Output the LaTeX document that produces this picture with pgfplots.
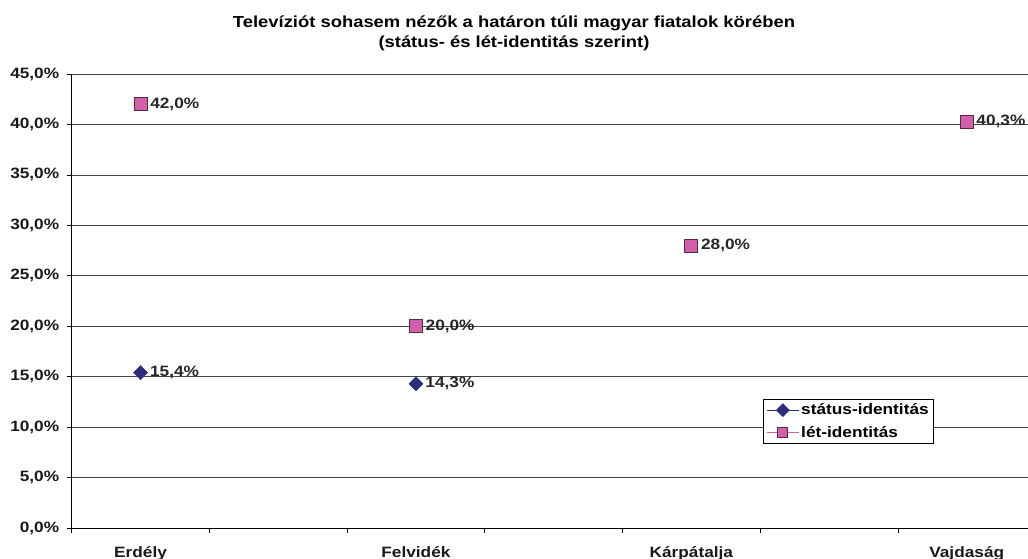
\documentclass[border=0pt]{standalone}
\usepackage{pgfplots}
\pgfplotsset{compat=1.18}
\usepackage{fontspec}
\setmainfont{Liberation Sans}[FakeStretch=1.15]
\definecolor{pinkf}{RGB}{208,96,168}
\definecolor{pinkd}{RGB}{90,40,70}
\definecolor{navy}{RGB}{44,44,122}
\definecolor{gridc}{RGB}{70,70,70}
\begin{document}
\begin{tikzpicture}[x=1pt,y=1pt]
\useasboundingbox (0,0) rectangle (1028,559);
\node[font=\bfseries\fontsize{16}{20}\selectfont, align=center, inner sep=0pt] at (514,526) {Televíziót sohasem nézők a határon túli magyar fiatalok körében\\(státus- és lét-identitás szerint)};
\begin{axis}[
  at={(71.7pt,31pt)}, anchor=south west,
  scale only axis, width=956.3pt, height=454pt,
  xmin=-0.5, xmax=6.445, ymin=0, ymax=45,
  clip=false,
  axis lines*=left,
  axis line style={black, line width=0.8pt},
  ymajorgrids, grid style={gridc, line width=0.7pt},
  ytick={0,5,...,45},
  tick align=outside, major tick length=5pt,
  tick style={black, line width=0.7pt},
  /pgf/number format/assume math mode=true,
  yticklabel={\pgfmathprintnumber[fixed,fixed zerofill,precision=1,use comma]{\tick}\%},
  yticklabel style={font=\bfseries\fontsize{15}{17}\selectfont, xshift=-4pt, text=black!90},
  xtick={-0.5,0.5,...,5.5}, xticklabels={},
  extra x ticks={0,2,4,6},
  extra x tick labels={Erdély,Felvidék,Kárpátalja,Vajdaság},
  extra x tick style={major tick length=0pt, grid=none, tick label style={font=\bfseries\fontsize{15}{17}\selectfont, yshift=-15pt, text=black!90}},
  legend style={at={(0.723,0.284)}, anchor=north west, draw=black, line width=0.8pt, fill=white,
    font=\bfseries\fontsize{15}{17}\selectfont, inner xsep=3pt, inner ysep=2.5pt, row sep=6pt},
  legend cell align=left,
  legend image code/.code={\draw[mark repeat=2,mark phase=2,#1] plot coordinates {(0pt,0pt)(16pt,0pt)(32pt,0pt)};},
  nodes near coords={\pgfmathprintnumber[fixed,fixed zerofill,precision=1,use comma]{\pgfplotspointmeta}\%},
  nodes near coords style={font=\bfseries\fontsize{15}{17}\selectfont, anchor=west, xshift=6pt, text=black!85},
  point meta=y,
]
\addplot[only marks, mark=square*, mark size=5pt, mark options={rotate=45, fill=navy, draw=navy}, forget plot]
  coordinates {(0,15.4) (2,14.3)};
\addplot[only marks, mark=square*, mark size=6.5pt, mark options={fill=pinkf, draw=pinkd, line width=0.8pt}, forget plot]
  coordinates {(0,42.0) (2,20.0) (4,28.0) (6,40.3)};
\addlegendimage{navy, line width=0.7pt, mark=square*, mark options={rotate=45, fill=navy, draw=navy, mark size=4.5pt}}
\addlegendentry{státus-identitás}
\addlegendimage{pinkf, line width=0.7pt, mark=square*, mark options={fill=pinkf, draw=pinkd, line width=0.8pt, mark size=5pt}}
\addlegendentry{lét-identitás}
\end{axis}
\end{tikzpicture}
\end{document}
